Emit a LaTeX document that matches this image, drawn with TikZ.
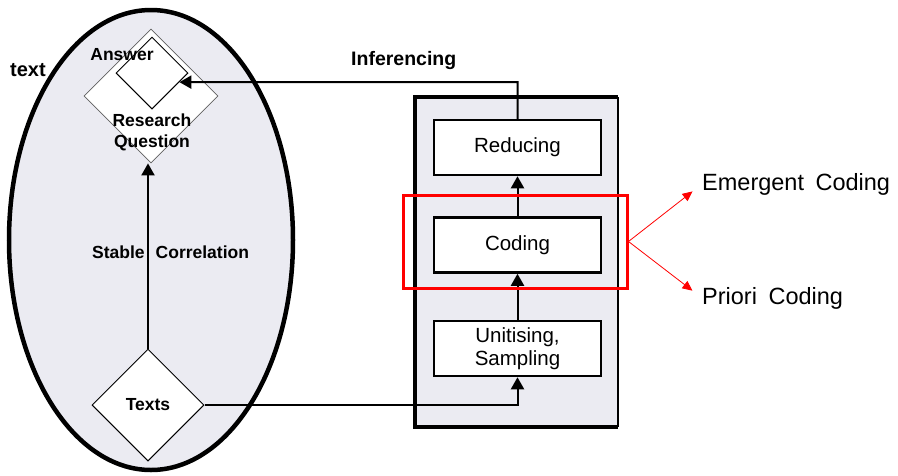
\documentclass[tikz,border=0pt]{standalone}
\usepackage{fontspec}
\setmainfont{Liberation Sans}
\usetikzlibrary{shapes.geometric,arrows.meta,calc,positioning}
\definecolor{ellfill}{HTML}{EBEBF2}
\definecolor{panelfill}{HTML}{EBEBF2}
\definecolor{dgray}{HTML}{606060}
\tikzset{
  lbl/.style={font=\fontsize{17.5}{21}\selectfont\bfseries, inner sep=0pt, align=center},
  boxtxt/.style={font=\fontsize{20.5}{23}\selectfont},
  stagebox/.style={draw, line width=2.5pt, fill=white, minimum width=167pt, minimum height=55pt, inner sep=0pt, boxtxt, align=center},
  dia/.style={diamond, aspect=1, inner sep=0pt, fill=white},
  arr/.style={line width=2pt, -{Triangle[length=12pt,width=13pt]}},
  redarr/.style={red, line width=0.8pt, -{Triangle[length=10pt,width=9pt]}},
  side/.style={font=\fontsize{23.5}{26}\selectfont, inner sep=0pt, anchor=west}
}
\begin{document}
\begin{tikzpicture}[x=1pt,y=-1pt]
\useasboundingbox (0,0) rectangle (898,475);
% ellipse
\draw[line width=4.5pt, fill=ellfill] (151,240) ellipse [x radius=142pt, y radius=230pt];
\node[lbl, font=\fontsize{20}{22}\selectfont\bfseries, anchor=west] (textlbl) at (10,70) {text};
% diamonds
\node[dia, draw=dgray, line width=0.8pt, minimum width=134pt, minimum height=134pt] (rq) at (151,96) {};
\node[dia, draw=black, line width=1pt, minimum width=72pt, minimum height=72pt] (ans) at (152,73) {};
\node[lbl] (anslbl) at (122,55) {Answer};
\node[lbl] (rqlbl) at (152,132) {Research\\Question};
\node[dia, draw=black, line width=1pt, minimum width=112pt, minimum height=112pt, lbl] (texts) at (148,405) {Texts};
\draw[arr] (texts.north) -- (texts.north |- rq.south);
\node[lbl, anchor=west] (stable) at (92,252) {Stable\hspace{11pt}Correlation};
% panel
\fill[panelfill] (415,97) rectangle (618,427);
\draw[line width=1.8pt] (618,97) -- (618,427);
\draw[line width=3.5pt] (618,97) -- (415,97) -- (415,427) -- (618,427);
% stage boxes
\node[stagebox] (red) at (517.5,147.5) {Reducing};
\node[stagebox] (cod) at (517.5,245) {Coding};
\node[stagebox] (unit) at (517.5,348.5) {Unitising,\\Sampling};
\draw[arr] (cod.north) -- (red.south);
\draw[arr] (unit.north) -- (cod.south);
\draw[arr] (texts.east) -| (unit.south);
% inferencing
\coordinate (turn) at (517.5,82);
\draw[arr] (red.north) -- (turn) -- ($(ans.east)!0.25!(ans.south)$);
\node[lbl, font=\fontsize{19.5}{22}\selectfont\bfseries, anchor=west] (inf) at (351,60) {Inferencing};
% red box
\node[draw=red, line width=3pt, minimum width=224pt, minimum height=93pt, inner sep=0pt] (redbox) at (515,241.5) {};
\node[side] (emg) at (702,184) {Emergent\hspace{5pt} Coding};
\node[side] (pri) at (702,298) {Priori\hspace{5pt} Coding};
\draw[redarr, shorten >=12pt] (redbox.east) -- (emg.west);
\draw[redarr, shorten >=12pt] (redbox.east) -- (pri.west);
\end{tikzpicture}
\end{document}
